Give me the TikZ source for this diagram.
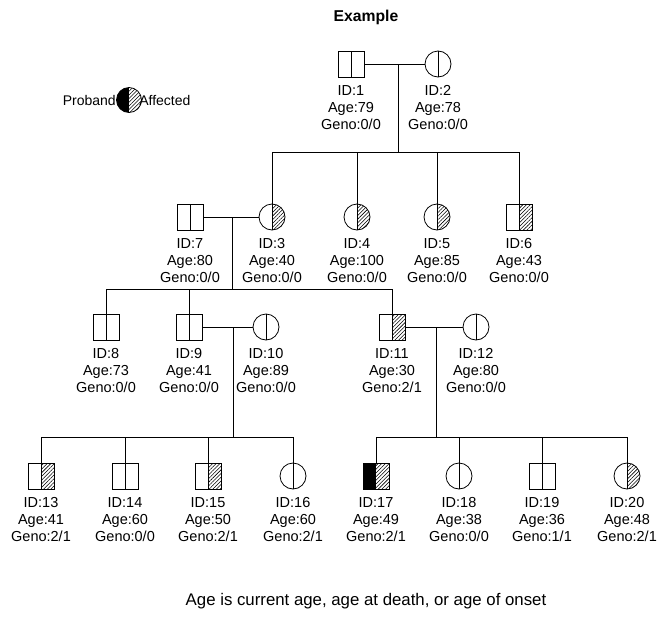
\documentclass[tikz,border=0pt]{standalone}
\usepackage{fontspec}
\setmainfont{Liberation Sans}
\usetikzlibrary{patterns.meta,calc}
\begin{document}
\begin{tikzpicture}[x=1pt,y=-1pt,
  line width=0.8pt,
  hatch/.style={pattern={Lines[angle=45,distance=2.6pt,line width=0.55pt]}},
  sym/.style={draw, inner sep=0pt, minimum size=26pt, line width=0.8pt},
  male/.style={sym, rectangle, path picture={\draw (path picture bounding box.north)--(path picture bounding box.south);}},
  female/.style={sym, circle, path picture={\draw (path picture bounding box.north)--(path picture bounding box.south);}},
  maleaff/.style={sym, rectangle, path picture={\fill[hatch] (path picture bounding box.north) rectangle (path picture bounding box.south east);\draw (path picture bounding box.north)--(path picture bounding box.south);}},
  femaleaff/.style={sym, circle, path picture={\fill[hatch] (path picture bounding box.north) rectangle (path picture bounding box.south east);\draw (path picture bounding box.north)--(path picture bounding box.south);}},
  proband/.style={sym, rectangle, path picture={\fill[black] (path picture bounding box.north west) rectangle (path picture bounding box.south);\fill[hatch] (path picture bounding box.north) rectangle (path picture bounding box.south east);}},
  legendsym/.style={sym, circle, minimum size=25pt, path picture={\fill[black] (path picture bounding box.north west) rectangle (path picture bounding box.south);\fill[hatch] (path picture bounding box.north) rectangle (path picture bounding box.south east);}},
  info/.style={align=center, inner sep=0pt, anchor=north, font=\fontsize{14.5}{17}\selectfont},
  txt/.style={inner sep=0pt, font=\fontsize{14}{17}\selectfont}
]
\useasboundingbox (0,0) rectangle (660,621);

\node[txt, font=\fontsize{15.7}{18}\selectfont\bfseries] (title) at (366,17) {Example};
\node[txt, font=\fontsize{16.8}{19}\selectfont] (foot) at (366,601) {Age is current age, age at death, or age of onset};

% legend
\node[legendsym] (leg) at (129,100) {};
\node[txt, anchor=east] (legp) at (leg.west) {Proband};
\node[txt, anchor=west] (lega) at ($(leg.east)+(-3,0)$) {Affected};

% generation 1
\node[male] (p1) at (351,64) {};
\node[female] (p2) at (438,64) {};
% generation 2
\node[male] (p7) at (190,217) {};
\node[femaleaff] (p3) at (272,217) {};
\node[femaleaff] (p4) at (357,217) {};
\node[femaleaff] (p5) at (437,217) {};
\node[maleaff] (p6) at (519,217) {};
% generation 3
\node[male] (p8) at (106,327) {};
\node[male] (p9) at (189,327) {};
\node[female] (p10) at (266,327) {};
\node[maleaff] (p11) at (392,327) {};
\node[female] (p12) at (476,327) {};
% generation 4
\node[maleaff] (p13) at (41,476) {};
\node[male] (p14) at (125,476) {};
\node[maleaff] (p15) at (208,476) {};
\node[female] (p16) at (293,476) {};
\node[proband] (p17) at (376,476) {};
\node[female] (p18) at (459,476) {};
\node[male] (p19) at (542,476) {};
\node[femaleaff] (p20) at (627,476) {};

% labels
\foreach \n/\a/\g in {1/79/0\slash 0,2/78/0\slash 0,7/80/0\slash 0,3/40/0\slash 0,4/100/0\slash 0,5/85/0\slash 0,6/43/0\slash 0,8/73/0\slash 0,9/41/0\slash 0,10/89/0\slash 0,11/30/2\slash 1,12/80/0\slash 0,13/41/2\slash 1,14/60/0\slash 0,15/50/2\slash 1,16/60/2\slash 1,17/49/2\slash 1,18/38/0\slash 0,19/36/1\slash 1,20/48/2\slash 1}
  \node[info] (l\n) at ($(p\n.south)+(0,8)$) {ID:\n\\Age:\a\\Geno:\g};

% marriages and descent
\coordinate (m1) at (398,64);
\coordinate (s1) at (398,152);
\draw (p1.east) -- (p2.west);
\draw (m1) -- (s1);
\draw (p3.north) |- (s1);
\draw (p6.north) |- (s1);
\draw (p4.north) -- (p4 |- s1);
\draw (p5.north) -- (p5 |- s1);

\coordinate (m2) at (232,217);
\coordinate (s2) at (232,289);
\draw (p7.east) -- (p3.west);
\draw (m2) -- (s2);
\draw (p8.north) |- (s2);
\draw (p11.north) |- (s2);
\draw (p9.north) -- (p9 |- s2);

\coordinate (m3) at (233,327);
\coordinate (s3) at (233,437);
\draw (p9.east) -- (p10.west);
\draw (m3) -- (s3);
\draw (p13.north) |- (s3);
\draw (p16.north) |- (s3);
\draw (p14.north) -- (p14 |- s3);
\draw (p15.north) -- (p15 |- s3);

\coordinate (m4) at (436,327);
\coordinate (s4) at (436,437);
\draw (p11.east) -- (p12.west);
\draw (m4) -- (s4);
\draw (p17.north) |- (s4);
\draw (p20.north) |- (s4);
\draw (p18.north) -- (p18 |- s4);
\draw (p19.north) -- (p19 |- s4);
\end{tikzpicture}
\end{document}
